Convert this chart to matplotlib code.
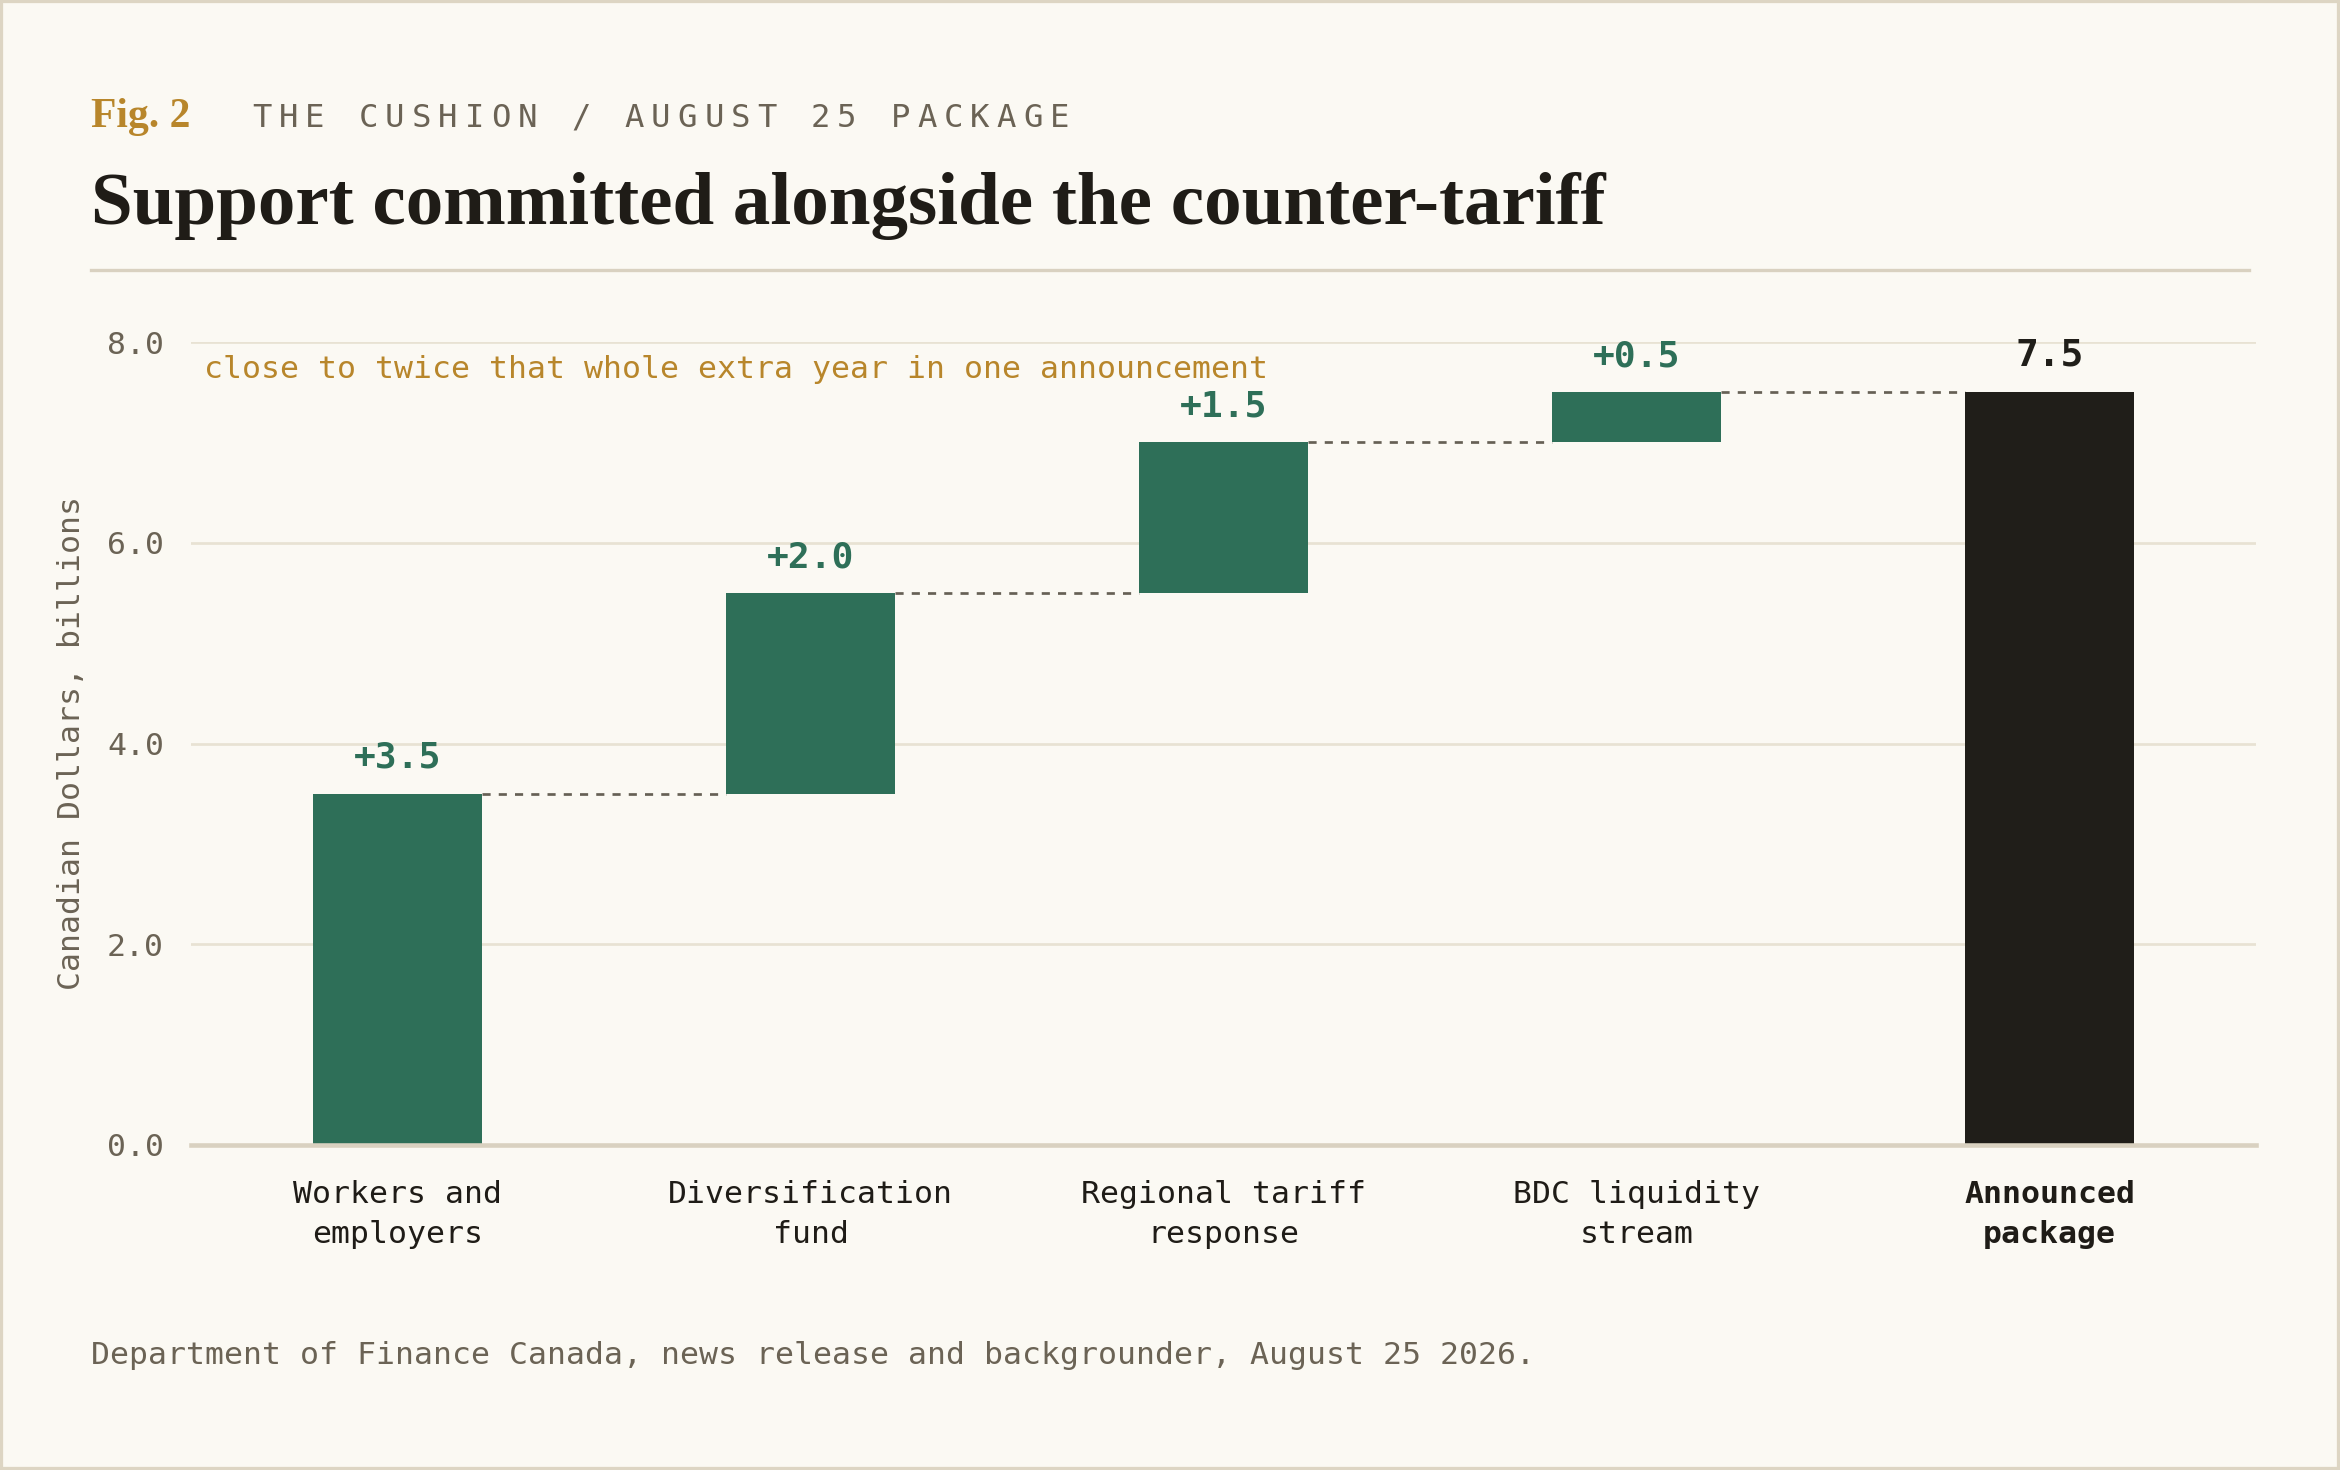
import matplotlib.pyplot as plt
from matplotlib.patches import Rectangle

# data
categories = ["Workers and\nemployers", "Diversification\nfund", "Regional tariff\nresponse",
              "BDC liquidity\nstream", "Announced\npackage"]
steps = [3.5, 2.0, 1.5, 0.5]
total = 7.5
yticks = [0.0, 2.0, 4.0, 6.0, 8.0]

BG = "#fbf9f3"
GREEN = "#2e6f58"
DARK = "#201e19"
GOLD = "#b8862b"
GREY = "#6b6355"
GRID = "#e8e2d3"
RULE = "#d9d1c0"
MONO = "DejaVu Sans Mono"
SERIF = "Liberation Serif"
FS = 15.1

fig = plt.figure(figsize=(15.6, 9.8), dpi=150, facecolor=BG)
ax = fig.add_axes([191 / 2340, 1 - 1145 / 1470, (2256 - 191) / 2340, (1145 - 342) / 1470])
ax.set_facecolor(BG)

# waterfall bars
bottoms = []
run = 0.0
for s in steps:
    bottoms.append(run)
    run += s
x = list(range(len(categories)))
w = 0.41
ax.bar(x[:-1], steps, bottom=bottoms, width=w, color=GREEN, zorder=3)
ax.bar(x[-1], total, width=w, color=DARK, zorder=3)

# connectors
tops = [b + s for b, s in zip(bottoms, steps)]
for i, t in enumerate(tops):
    ax.plot([x[i] + w / 2, x[i + 1] - w / 2], [t, t], color="#666055", lw=1.3,
            ls=(0, (3, 3)), zorder=2)

# value labels
for i, (t, s) in enumerate(zip(tops, steps)):
    ax.annotate(f"+{s:.1f}", (x[i], t), xytext=(0, 9), textcoords="offset points",
                ha="center", va="bottom", fontsize=17.4, fontweight="bold",
                color=GREEN, family=MONO, annotation_clip=False)
ax.annotate(f"{total:.1f}", (x[-1], total), xytext=(0, 9), textcoords="offset points",
            ha="center", va="bottom", fontsize=18.2, fontweight="bold",
            color=DARK, family=MONO, annotation_clip=False)

ax.set_xlim(-0.5, len(categories) - 0.5)
ax.set_ylim(0, 8)
ax.set_yticks(yticks)
ax.set_yticklabels([f"{v:.1f}" for v in yticks], family=MONO, fontsize=FS, color=GREY)
ax.set_xticks(x)
ax.set_xticklabels(categories, family=MONO, fontsize=FS, color="#1f1c17", linespacing=1.48)
ax.get_xticklabels()[-1].set_fontweight("bold")
ax.tick_params(axis="y", length=0, pad=13)
ax.tick_params(axis="x", length=0, pad=17)
ax.grid(axis="y", color=GRID, lw=1.3, zorder=0)
for sp in ["top", "right", "left"]:
    ax.spines[sp].set_visible(False)
ax.spines["bottom"].set_color(RULE)
ax.spines["bottom"].set_linewidth(2.2)
ax.spines["bottom"].set_zorder(4)

ax.set_ylabel("Canadian Dollars, billions", family=MONO, fontsize=FS, color=GREY, labelpad=10)

ax.text(0.0063, 0.966, "close to twice that whole extra year in one announcement",
        transform=ax.transAxes, ha="left", va="center", family=MONO, fontsize=FS, color=GOLD)

# header
fig.text(91 / 2340, 1 - 127 / 1470, "Fig. 2", family=SERIF, fontweight="bold",
         fontsize=20, color=GOLD, va="baseline", ha="left")
sub = "THE CUSHION / AUGUST 25 PACKAGE"
x0 = 252
for k, ch in enumerate(sub):
    fig.text((x0 + k * 26.6) / 2340, 1 - 127 / 1470, ch, family=MONO, fontsize=15.5,
             color=GREY, va="baseline", ha="left")
fig.text(91 / 2340, 1 - 224 / 1470, "Support committed alongside the counter-tariff",
         family=SERIF, fontweight="bold", fontsize=36, color="#1f1c17", va="baseline", ha="left")
fig.add_artist(plt.Line2D([91 / 2340, 2249 / 2340], [1 - 270 / 1470] * 2, color=RULE, lw=1.6))

fig.text(91 / 2340, 1 - 1356 / 1470,
         "Department of Finance Canada, news release and backgrounder, August 25 2026.",
         family=MONO, fontsize=FS, color=GREY, va="center", ha="left")

# frame
fig.add_artist(Rectangle((0, 0), 1, 1, transform=fig.transFigure, fill=False,
                         edgecolor="#ddd5c3", lw=3))

fig.savefig("out.png", dpi=150, facecolor=BG)
